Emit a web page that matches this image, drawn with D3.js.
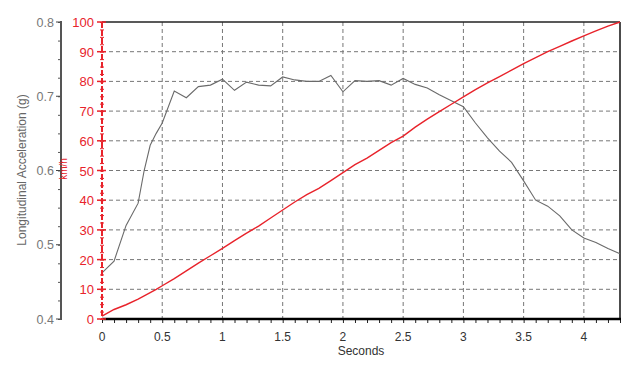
<!DOCTYPE html>
<html>
<head>
<meta charset="utf-8">
<script src="https://cdn.jsdelivr.net/npm/d3@7"></script>
<style>
  html, body { margin: 0; padding: 0; background: #fff; }
  svg { display: block; font-family: "Liberation Sans", Arial, sans-serif; }
</style>
</head>
<body>
<svg id="chart" width="640" height="365"></svg>
<script>
// ---- data ----
const timeSec = [0, 0.1, 0.2, 0.3, 0.35, 0.4, 0.45, 0.5, 0.6, 0.7, 0.8, 0.9, 1.0, 1.1, 1.2, 1.3, 1.4, 1.5, 1.6, 1.7, 1.8, 1.9, 2.0, 2.1, 2.2, 2.3, 2.4, 2.5, 2.6, 2.7, 2.8, 2.9, 3.0, 3.1, 3.2, 3.3, 3.4, 3.5, 3.6, 3.7, 3.8, 3.9, 4.0, 4.1, 4.2, 4.3];
const accelG = [0.462, 0.478, 0.526, 0.556, 0.600, 0.634, 0.650, 0.664, 0.707, 0.698, 0.713, 0.715, 0.723, 0.708, 0.719, 0.715, 0.714, 0.726, 0.722, 0.720, 0.720, 0.728, 0.706, 0.721, 0.720, 0.721, 0.715, 0.724, 0.716, 0.711, 0.702, 0.694, 0.686, 0.664, 0.644, 0.626, 0.611, 0.586, 0.560, 0.552, 0.539, 0.520, 0.509, 0.503, 0.495, 0.488];
const speedKmh = [1.0, 3.2, 4.8, 6.7, 7.8, 8.9, 10.0, 11.2, 13.6, 16.2, 18.8, 21.3, 23.8, 26.4, 28.9, 31.3, 34.0, 36.7, 39.4, 41.9, 44.0, 46.6, 49.3, 52.0, 54.2, 56.8, 59.4, 61.6, 64.6, 67.3, 69.8, 72.3, 74.8, 77.2, 79.5, 81.6, 83.8, 86.0, 88.0, 90.0, 91.8, 93.6, 95.3, 97.0, 98.6, 100.2];
const xTicks = [0, 0.5, 1, 1.5, 2, 2.5, 3, 3.5, 4];
const xTickLabels = ["0", "0.5", "1", "1.5", "2", "2.5", "3", "3.5", "4"];
const speedTicks = [0, 10, 20, 30, 40, 50, 60, 70, 80, 90, 100];
const accelTicks = [0.4, 0.5, 0.6, 0.7, 0.8];
const accelTickLabels = ["0.4", "0.5", "0.6", "0.7", "0.8"];
const xTitle = "Seconds";
const accelTitle = "Longitudinal Acceleration (g)";
const speedTitle = "km/h";

// ---- layout ----
const svg = d3.select("#chart");
const L = 102, R = 620, T = 22, B = 319;
const x = d3.scaleLinear().domain([0, 4.3]).range([L, R]);
const ySpeed = d3.scaleLinear().domain([0, 100]).range([B, T]);
const yAccel = d3.scaleLinear().domain([0.4, 0.8]).range([B, T]);
const red = "#e8232b";

// grid
const grid = svg.append("g");
grid.selectAll("line.v").data(xTicks.filter(d => d > 0)).enter().append("line")
  .attr("x1", d => x(d)).attr("x2", d => x(d)).attr("y1", T).attr("y2", B)
  .attr("stroke", "#777").attr("stroke-width", 1).attr("stroke-dasharray", "4,3");
grid.selectAll("line.h").data(speedTicks.filter(d => d > 0 && d < 100)).enter().append("line")
  .attr("x1", L).attr("x2", R).attr("y1", d => ySpeed(d)).attr("y2", d => ySpeed(d))
  .attr("stroke", "#777").attr("stroke-width", 1).attr("stroke-dasharray", "4,3");

// frame top/right
svg.append("line").attr("x1", L).attr("x2", R).attr("y1", T).attr("y2", T)
  .attr("stroke", "#222").attr("stroke-width", 1.5);
svg.append("line").attr("x1", R).attr("x2", R).attr("y1", T).attr("y2", B)
  .attr("stroke", "#111").attr("stroke-width", 1.5);

// series
const accelLine = d3.line().x((d, i) => x(timeSec[i])).y(d => yAccel(d));
svg.append("path").datum(accelG).attr("d", accelLine)
  .attr("fill", "none").attr("stroke", "#6a6a6a").attr("stroke-width", 1.1);
const speedLine = d3.line().x((d, i) => x(timeSec[i])).y(d => ySpeed(Math.min(d, 100)));
svg.append("path").datum(speedKmh).attr("d", speedLine)
  .attr("fill", "none").attr("stroke", red).attr("stroke-width", 1.4);

// bottom axis
const xAxisG = svg.append("g").attr("transform", `translate(0,${B})`);
xAxisG.call(d3.axisBottom(x).tickValues(d3.range(0, 4.31, 0.1)).tickSize(4).tickFormat(""))
  .call(g => g.select(".domain").remove())
  .call(g => g.selectAll("line").attr("stroke", "#222"));
svg.append("line").attr("x1", L).attr("x2", R + 1).attr("y1", B).attr("y2", B)
  .attr("stroke", "#000").attr("stroke-width", 2.5);
svg.append("g").selectAll("text").data(xTicks).enter().append("text")
  .attr("x", d => x(d)).attr("y", 341).attr("text-anchor", "middle")
  .attr("font-size", 12).attr("fill", "#333").text((d, i) => xTickLabels[i]);
svg.append("text").attr("x", 361).attr("y", 355).attr("text-anchor", "middle")
  .attr("font-size", 12).attr("fill", "#333").text(xTitle);

// left accel axis
const accG = svg.append("g").attr("transform", `translate(61,0)`);
accG.call(d3.axisLeft(yAccel).tickValues(d3.range(0.4, 0.8001, 0.025)).tickSize(3).tickFormat(""))
  .call(g => g.select(".domain").remove())
  .call(g => g.selectAll("line").attr("stroke", "#555"));
accG.call(g => g.selectAll(".maj").data(accelTicks).enter().append("line").attr("class", "maj")
  .attr("x1", -5).attr("x2", 0).attr("y1", d => yAccel(d)).attr("y2", d => yAccel(d)).attr("stroke", "#444"));
svg.append("line").attr("x1", 61).attr("x2", 61).attr("y1", T - 1).attr("y2", B + 1)
  .attr("stroke", "#555").attr("stroke-width", 2);
svg.append("g").selectAll("text").data(accelTicks).enter().append("text")
  .attr("x", 54).attr("y", d => yAccel(d) + 4.5).attr("text-anchor", "end")
  .attr("font-size", 12.5).attr("fill", "#777").text((d, i) => accelTickLabels[i]);
svg.append("text").attr("transform", "translate(26,170) rotate(-90)").attr("text-anchor", "middle")
  .attr("font-size", 12).attr("fill", "#666").text(accelTitle);

// red speed axis
const spG = svg.append("g").attr("transform", `translate(${L},0)`);
spG.call(d3.axisLeft(ySpeed).tickValues(d3.range(0, 101, 2.5)).tickSize(2).tickFormat(""))
  .call(g => g.select(".domain").remove())
  .call(g => g.selectAll("line").attr("stroke", red).attr("x2", 2).attr("x1", -2));
spG.selectAll(".maj").data(speedTicks).enter().append("line").attr("class", "maj")
  .attr("x1", -5).attr("x2", 4).attr("y1", d => ySpeed(d)).attr("y2", d => ySpeed(d))
  .attr("stroke", red).attr("stroke-width", 1.5);
svg.append("line").attr("x1", L).attr("x2", L).attr("y1", T).attr("y2", B)
  .attr("stroke", red).attr("stroke-width", 2).attr("stroke-dasharray", "6,2");
svg.append("g").selectAll("text").data(speedTicks).enter().append("text")
  .attr("x", 94).attr("y", d => ySpeed(d) + 5).attr("text-anchor", "end")
  .attr("font-size", 13).attr("fill", red).text(d => d);
svg.append("text").attr("transform", "translate(67,169) rotate(-90)").attr("text-anchor", "middle")
  .attr("font-size", 10).attr("fill", red).text(speedTitle);
</script>
</body>
</html>
